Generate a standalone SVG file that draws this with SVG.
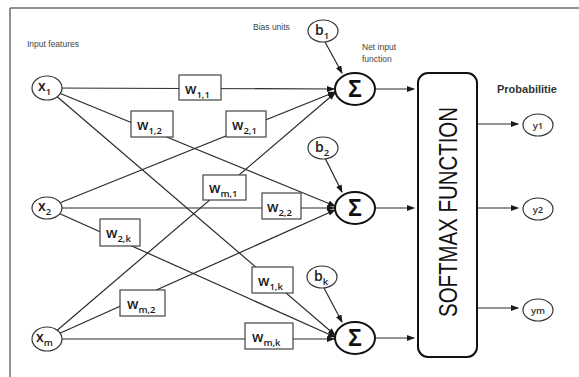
<svg xmlns="http://www.w3.org/2000/svg" width="579" height="377" viewBox="0 0 579 377">
<style>
.frame{stroke:#6e6e6e;stroke-width:1.5;fill:none}
.ln{stroke:#2b2b2b;stroke-width:1.2;fill:none}
.arr{stroke:#2b2b2b;stroke-width:1.2;fill:none;marker-end:url(#ah)}
.node{fill:#fff;stroke:#333;stroke-width:1.2}
.sum{fill:#fff;stroke:#111;stroke-width:2}
.wbox{fill:#fff;stroke:#444;stroke-width:1.2}
.lbl{font-family:"Open Sans","Liberation Sans",Arial,sans-serif;font-size:14px;font-weight:600;fill:#1a1a1a}
.sub{font-size:9.5px}
.small{font-family:"Liberation Sans",Arial,sans-serif;font-size:8.5px;fill:#444}
.sig{font-family:"Liberation Sans",Arial,sans-serif;font-size:23px;font-weight:bold;fill:#111;text-anchor:middle}
.out{font-family:"Open Sans","Liberation Sans",Arial,sans-serif;font-size:9.5px;font-weight:600;fill:#333;text-anchor:middle}
</style>
<defs>
<marker id="ah" markerWidth="8" markerHeight="6" refX="7" refY="3" orient="auto" markerUnits="userSpaceOnUse">
<path d="M0,0 L8,3 L0,6 Z" fill="#1a1a1a"/>
</marker>
</defs>
<g id="frame">
<line class="frame" x1="10" y1="8" x2="579" y2="8"/>
<line class="frame" x1="10" y1="8" x2="10" y2="377"/>
</g>
<g id="captions">
<text class="small" x="27" y="47">Input features</text>
<text class="small" x="253" y="30">Bias units</text>
<text class="small" x="362" y="50">Net input</text>
<text class="small" x="362" y="62">function</text>
<text x="497" y="93" font-family="Liberation Sans,Arial,sans-serif" font-size="11" font-weight="bold" fill="#333">Probabilitie</text>
</g>
<g id="connectors">
<line class="arr" x1="47" y1="88" x2="334" y2="89"/>
<line class="arr" x1="47" y1="88" x2="335" y2="206"/>
<line class="arr" x1="47" y1="88" x2="335" y2="335"/>
<line class="arr" x1="47" y1="208" x2="335" y2="92"/>
<line class="arr" x1="47" y1="208" x2="334" y2="208"/>
<line class="arr" x1="47" y1="208" x2="335" y2="337"/>
<line class="arr" x1="47" y1="339" x2="335" y2="93"/>
<line class="arr" x1="47" y1="339" x2="335" y2="210"/>
<line class="arr" x1="47" y1="339" x2="334" y2="339"/>
<line class="arr" x1="325" y1="42" x2="342" y2="73"/>
<line class="arr" x1="325" y1="158" x2="342" y2="192"/>
<line class="arr" x1="324" y1="288" x2="342" y2="322"/>
<line class="arr" x1="376" y1="89" x2="414" y2="89"/>
<line class="arr" x1="376" y1="208" x2="414" y2="208"/>
<line class="arr" x1="376" y1="338" x2="414" y2="338"/>
<line class="arr" x1="477" y1="124" x2="518" y2="124"/>
<line class="arr" x1="477" y1="208" x2="518" y2="208"/>
<line class="arr" x1="477" y1="308" x2="518" y2="308"/>
</g>
<g id="w11"><rect class="wbox" x="179" y="75" width="42" height="25"/><text class="lbl" x="185" y="94">w<tspan class="sub" dy="4">1,1</tspan></text></g>
<g id="w12"><rect class="wbox" x="131" y="111" width="42" height="26"/><text class="lbl" x="137" y="130">w<tspan class="sub" dy="4">1,2</tspan></text></g>
<g id="w21"><rect class="wbox" x="226" y="111" width="40" height="26"/><text class="lbl" x="232" y="130">w<tspan class="sub" dy="4">2,1</tspan></text></g>
<g id="wm1"><rect class="wbox" x="203" y="175" width="43" height="25"/><text class="lbl" x="209" y="193">w<tspan class="sub" dy="4">m,1</tspan></text></g>
<g id="w22"><rect class="wbox" x="262" y="193" width="39" height="26"/><text class="lbl" x="267" y="212">w<tspan class="sub" dy="4">2,2</tspan></text></g>
<g id="w2k"><rect class="wbox" x="100" y="219" width="40" height="27"/><text class="lbl" x="106" y="238">w<tspan class="sub" dy="4">2,k</tspan></text></g>
<g id="w1k"><rect class="wbox" x="252" y="267" width="41" height="26"/><text class="lbl" x="258" y="286">w<tspan class="sub" dy="4">1,k</tspan></text></g>
<g id="wm2"><rect class="wbox" x="120" y="290" width="45" height="26"/><text class="lbl" x="127" y="309">w<tspan class="sub" dy="4">m,2</tspan></text></g>
<g id="wmk"><rect class="wbox" x="245" y="323" width="48" height="26"/><text class="lbl" x="252" y="342">w<tspan class="sub" dy="4">m,k</tspan></text></g>
<g id="x1"><ellipse class="node" cx="47" cy="88" rx="15" ry="12"/><text class="lbl" x="38" y="91">x<tspan class="sub" dy="4">1</tspan></text></g>
<g id="x2"><ellipse class="node" cx="47" cy="208" rx="15" ry="11"/><text class="lbl" x="38" y="211">x<tspan class="sub" dy="4">2</tspan></text></g>
<g id="xm"><ellipse class="node" cx="47" cy="339" rx="15" ry="12"/><text class="lbl" x="36" y="342">x<tspan class="sub" dy="4">m</tspan></text></g>
<g id="b1"><ellipse class="node" cx="323" cy="31" rx="15" ry="11"/><text class="lbl" x="315" y="35">b<tspan class="sub" dy="4">1</tspan></text></g>
<g id="b2"><ellipse class="node" cx="323" cy="148" rx="15" ry="11"/><text class="lbl" x="315" y="152">b<tspan class="sub" dy="4">2</tspan></text></g>
<g id="bk"><ellipse class="node" cx="322" cy="277" rx="15" ry="11"/><text class="lbl" x="314" y="281">b<tspan class="sub" dy="4">k</tspan></text></g>
<g id="sum1"><ellipse class="sum" cx="355" cy="89" rx="20" ry="16"/><text class="sig" x="355" y="97">Σ</text></g>
<g id="sum2"><ellipse class="sum" cx="355" cy="208" rx="20" ry="16"/><text class="sig" x="355" y="216">Σ</text></g>
<g id="sumk"><ellipse class="sum" cx="355" cy="338" rx="20" ry="16"/><text class="sig" x="355" y="346">Σ</text></g>
<g id="softmax">
<rect x="418" y="73" width="59" height="284" rx="10" ry="10" fill="#fff" stroke="#111" stroke-width="2"/>
<text transform="translate(457,212) rotate(-90)" x="0" y="0" text-anchor="middle" font-family="Liberation Sans,Arial,sans-serif" font-size="25" fill="#111" textLength="210" lengthAdjust="spacingAndGlyphs">SOFTMAX FUNCTION</text>
</g>
<g id="y1"><ellipse class="node" cx="538" cy="125" rx="15" ry="11"/><text class="out" x="538" y="129">y1</text></g>
<g id="y2"><ellipse class="node" cx="538" cy="209" rx="15" ry="11"/><text class="out" x="538" y="213">y2</text></g>
<g id="ym"><ellipse class="node" cx="538" cy="310" rx="15" ry="11"/><text class="out" x="538" y="314">ym</text></g>
</svg>
